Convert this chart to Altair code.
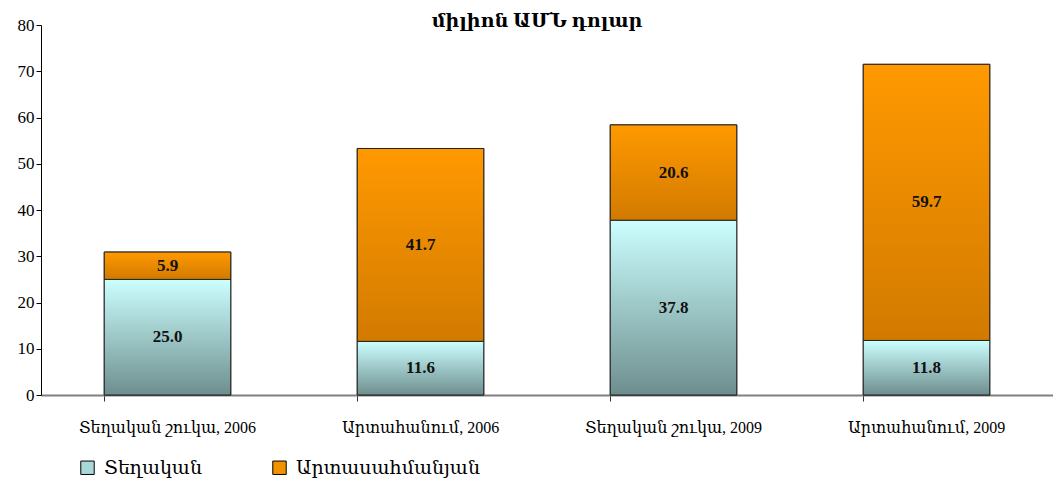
import altair as alt
import pandas as pd

categories = ["Տեղական շուկա, 2006", "Արտահանում, 2006", "Տեղական շուկա, 2009", "Արտահանում, 2009"]
local_vals = [25.0, 11.6, 37.8, 11.8]
foreign_vals = [5.9, 41.7, 20.6, 59.7]
series_names = ["Տեղական", "Արտասահմանյան"]
title_text = "միլիոն ԱՄՆ դոլար"

rows = []
for c, l, f in zip(categories, local_vals, foreign_vals):
    rows.append({"cat": c, "series": series_names[0], "value": l, "order": 0})
    rows.append({"cat": c, "series": series_names[1], "value": f, "order": 1})
df = pd.DataFrame(rows)

FONT = "Liberation Serif, DejaVu Serif, serif"

grad_local = alt.Gradient(
    gradient="linear", x1=0, x2=0, y1=0, y2=1,
    stops=[alt.GradientStop(color="#ccffff", offset=0),
           alt.GradientStop(color="#6e8e8e", offset=1)])
grad_foreign = alt.Gradient(
    gradient="linear", x1=0, x2=0, y1=0, y2=1,
    stops=[alt.GradientStop(color="#ff9900", offset=0),
           alt.GradientStop(color="#d27a00", offset=1)])

base = alt.Chart(df).transform_stack(
    stack="value", groupby=["cat"], as_=["y0", "y1"],
    sort=[alt.SortField("order")]
)

x_enc = alt.X("cat:N", sort=categories,
              scale=alt.Scale(paddingInner=0.5, paddingOuter=0.25),
              axis=alt.Axis(title=None, labelAngle=0, bandPosition=0,
                            domainColor="#808080", domainWidth=2,
                            tickColor="#333333", tickSize=6, labelPadding=18,
                            labelFontSize=16, labelFont=FONT, labelColor="#000000"))
y_enc = alt.Y("y0:Q", scale=alt.Scale(domain=[0, 80]),
              axis=alt.Axis(title=None, values=list(range(0, 90, 10)), grid=False,
                            domainColor="#000000", tickColor="#000000", tickSize=5,
                            labelFontSize=17, labelFont=FONT, labelColor="#000000"))

legend_layer = base.mark_bar(stroke="#222222", strokeWidth=1).encode(
    x=x_enc, y=y_enc, y2="y1:Q",
    color=alt.Color("series:N",
                    scale=alt.Scale(domain=series_names, range=["#a9d8d8", "#f39200"]),
                    legend=alt.Legend(title=None, orient="none", direction="horizontal",
                                      legendX=37, legendY=433,
                                      symbolType="square", symbolSize=180,
                                      symbolStrokeColor="#000000", symbolStrokeWidth=1,
                                      labelFont=FONT, labelFontSize=19, labelOffset=7,
                                      labelLimit=400,
                                      columnPadding=68, labelColor="#000000")),
)

local_layer = base.transform_filter(alt.datum.order == 0).mark_bar(
    color=grad_local, stroke="#222222", strokeWidth=1
).encode(x=x_enc, y=y_enc, y2="y1:Q")

foreign_layer = base.transform_filter(alt.datum.order == 1).mark_bar(
    color=grad_foreign, stroke="#222222", strokeWidth=1
).encode(x=x_enc, y=y_enc, y2="y1:Q")

labels = base.transform_calculate(mid="(datum.y0 + datum.y1) / 2").mark_text(
    font=FONT, fontSize=17, fontWeight="bold", color="#111111", baseline="middle"
).encode(x=x_enc, y=alt.Y("mid:Q"), text=alt.Text("value:Q", format=".1f"))

chart = alt.layer(legend_layer, local_layer, foreign_layer, labels).properties(
    width=1012, height=370,
    padding={"left": 9, "right": 0, "top": 4, "bottom": 0},
    title=alt.TitleParams(title_text, font=FONT, fontSize=19, fontWeight="bold",
                          color="#000000", offset=-15, dx=-10),
).configure_view(stroke=None)

chart.save("out.html", embed_options={"renderer": "svg", "actions": False})
